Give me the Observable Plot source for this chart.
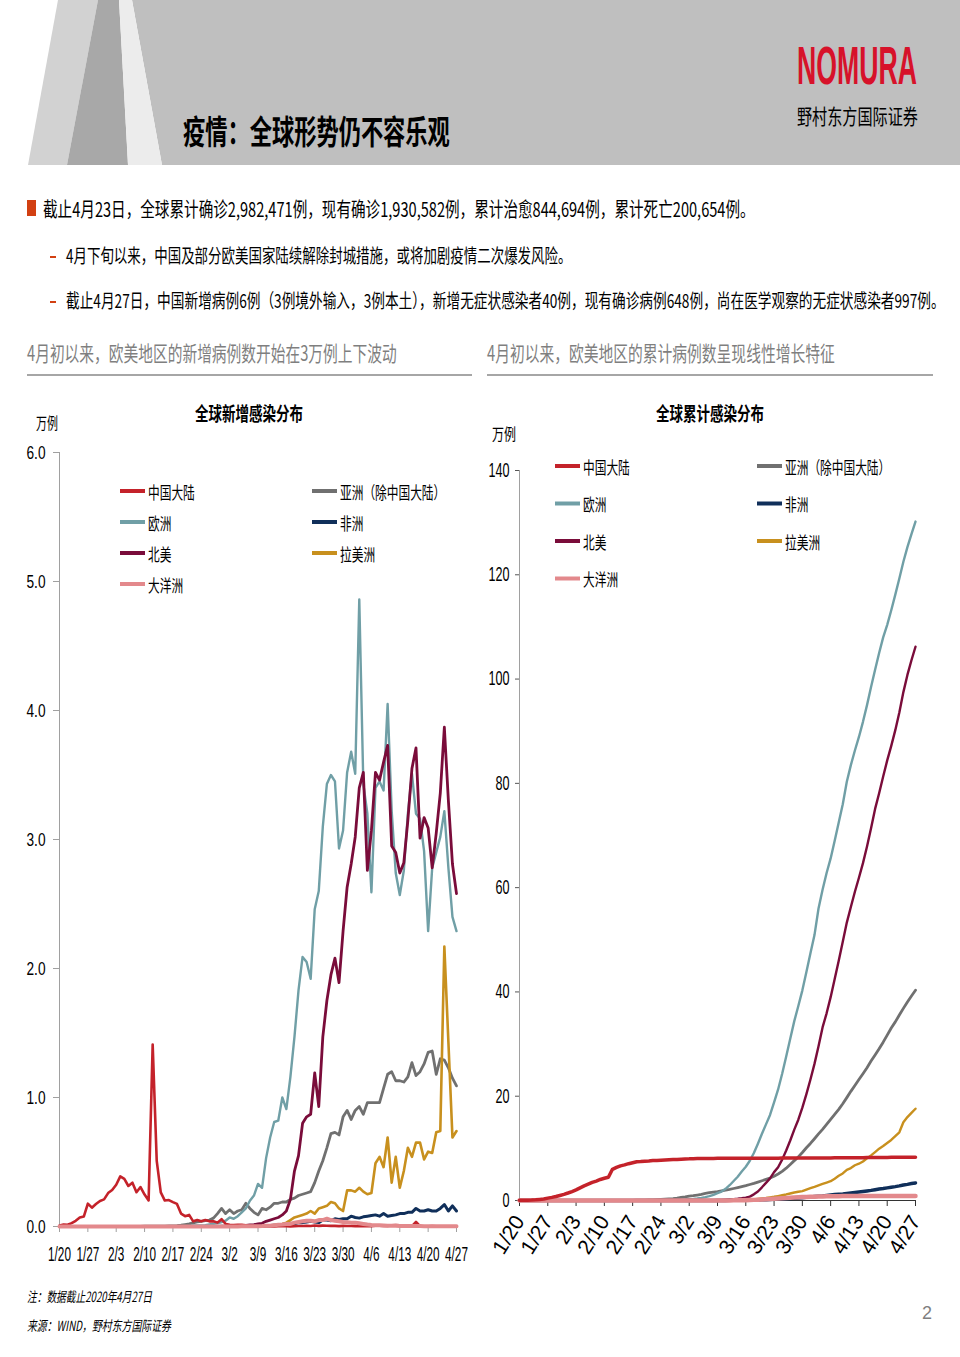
<!DOCTYPE html>
<html lang="zh-CN">
<head>
<meta charset="utf-8">
<script src="https://cdn.jsdelivr.net/npm/d3@7"></script>
<script src="https://cdn.jsdelivr.net/npm/@observablehq/plot@0.6"></script>
<style>
html,body{margin:0;padding:0;background:#fff;}
#page{position:relative;width:960px;height:1357px;overflow:hidden;background:#fff;}
#deco{position:absolute;left:0;top:0;}
#left,#right{position:absolute;top:380px;}
#left{left:0;}
#right{left:475px;}
</style>
</head>
<body>
<div id="page">
<svg id="deco" width="960" height="1357"></svg>
<div id="left"></div>
<div id="right"></div>
</div>
<script>
// ---------------- DATA ----------------
const seriesNames  = ["中国大陆","欧洲","北美","大洋洲","亚洲（除中国大陆）","非洲","拉美洲"];
const seriesColors = ["#c4222a","#709fa6","#7a0c3a","#e3898c","#707070","#102f5a","#c8901e"];
const xTickLabels  = ["1/20","1/27","2/3","2/10","2/17","2/24","3/2","3/9","3/16","3/23","3/30","4/6","4/13","4/20","4/27"];
const leftYTicks   = [0,1,2,3,4,5,6];
const rightYTicks  = [0,20,40,60,80,100,120,140];

// daily new cases (万例), 2020-01-20 .. 2020-04-27
const chinaDaily = [
0.008,0.015,0.013,0.026,0.044,0.069,0.077,0.177,0.146,0.174,
0.198,0.210,0.259,0.283,0.324,0.389,0.369,0.314,0.340,0.266,
0.306,0.248,0.202,1.411,0.509,0.264,0.201,0.205,0.189,0.175,
0.100,0.080,0.090,0.040,0.050,0.040,0.050,0.040,0.040,0.030,
0.057,0.020,0.013,0.012,0.014,0.014,0.010,0.004,0.004,0.002,
0.002,0.002,0.001,0.001,0.002,0.002,0.002,0.001,0.003,0.004,
0.004,0.005,0.004,0.008,0.005,0.007,0.006,0.005,0.005,0.003,
0.005,0.004,0.004,0.003,0.002,0.003,0.004,0.003,0.006,0.006,
0.004,0.005,0.010,0.011,0.009,0.005,0.005,0.003,0.035,0.002,
0.001,0.001,0.003,0.001,0.001,0.001,0.001,0.000,0.001];
const europeDaily = [
0,0,0,0,0.0003,0,0,0.0005,0.0004,0.0005,
0.0003,0.0005,0.0006,0.0002,0.0003,0.0003,0.0002,0.0001,0.0002,0.0001,
0.0002,0.0002,0.0001,0.0001,0.0001,0.0001,0.0001,0.0001,0.0001,0.0001,
0.0001,0.0001,0.0016,0.0079,0.0076,0.0075,0.011,0.016,0.021,0.025,
0.035,0.045,0.07,0.06,0.08,0.11,0.14,0.20,0.24,0.33,
0.30,0.53,0.69,0.81,0.82,1.00,0.91,1.16,1.47,1.83,
2.09,2.05,1.92,2.46,2.60,3.10,3.43,3.50,3.45,2.93,
3.07,3.52,3.68,3.51,4.86,3.43,3.20,2.59,3.40,3.45,
3.38,4.05,3.22,2.74,2.57,2.76,3.20,3.51,3.20,3.16,
2.91,2.29,2.78,2.90,3.02,3.22,2.78,2.40,2.29];
const northAmericaDaily = [
0,0,0,0,0,0,0,0,0,0,
0,0,0,0,0,0,0,0,0,0,
0,0,0,0,0,0,0,0,0,0,
0,0,0,0,0,0,0.0003,0.0005,0.0004,0.0006,
0.0008,0.0016,0.002,0.003,0.005,0.007,0.009,0.012,0.015,0.020,
0.025,0.040,0.050,0.060,0.070,0.090,0.120,0.210,0.430,0.550,
0.800,0.850,0.870,1.190,0.930,1.470,1.750,1.950,2.080,1.890,
2.290,2.630,2.810,3.020,3.400,3.520,2.760,3.070,3.520,3.460,
3.600,3.730,2.950,2.900,2.740,2.820,3.150,3.550,3.710,3.010,
3.170,3.090,2.780,3.050,3.360,3.870,3.300,2.810,2.580];
const oceaniaDaily = [
0,0,0,0,0,0.0003,0.0001,0,0,0,
0,0.0002,0.0003,0,0,0,0,0,0,0,
0,0,0,0,0,0,0,0,0,0,
0,0,0,0,0,0,0,0.0002,0.0005,0.0003,
0.0003,0.0005,0.0004,0.0006,0.0008,0.001,0.001,0.0015,0.002,0.002,
0.003,0.005,0.006,0.010,0.013,0.015,0.020,0.020,0.030,0.035,
0.040,0.045,0.045,0.040,0.050,0.050,0.060,0.050,0.045,0.040,
0.035,0.033,0.030,0.030,0.025,0.020,0.015,0.012,0.010,0.010,
0.008,0.006,0.005,0.005,0.004,0.004,0.004,0.003,0.003,0.003,
0.002,0.002,0.002,0.002,0.002,0.002,0.002,0.001,0.001];
const asiaDaily = [
0.000,0.000,0.000,0.001,0.000,0.001,0.001,0.001,0.001,0.001,
0.001,0.001,0.001,0.001,0.001,0.001,0.001,0.001,0.001,0.001,
0.001,0.002,0.002,0.003,0.002,0.003,0.003,0.004,0.004,0.006,
0.010,0.015,0.020,0.028,0.035,0.040,0.045,0.050,0.065,0.100,
0.140,0.100,0.130,0.100,0.120,0.130,0.180,0.140,0.110,0.090,
0.140,0.130,0.150,0.180,0.180,0.190,0.190,0.210,0.220,0.240,
0.250,0.260,0.270,0.340,0.430,0.510,0.610,0.720,0.730,0.710,
0.850,0.900,0.830,0.900,0.930,0.870,0.960,0.960,0.960,0.960,
1.070,1.180,1.200,1.130,1.130,1.120,1.160,1.270,1.170,1.200,
1.260,1.350,1.360,1.180,1.300,1.290,1.230,1.150,1.090];
const africaDaily = [
0,0,0,0,0,0,0,0,0,0,
0,0,0,0,0,0,0,0,0,0,
0,0,0,0,0,0,0,0,0,0,
0,0,0,0,0,0,0,0,0,0,
0.001,0.001,0.001,0.001,0.001,0.002,0.002,0.002,0.003,0.003,
0.004,0.006,0.008,0.010,0.012,0.015,0.020,0.025,0.020,0.030,
0.030,0.035,0.040,0.035,0.030,0.050,0.050,0.045,0.060,0.055,
0.060,0.060,0.080,0.070,0.065,0.075,0.080,0.085,0.090,0.080,
0.100,0.080,0.085,0.090,0.100,0.100,0.110,0.110,0.140,0.120,
0.120,0.130,0.120,0.120,0.140,0.170,0.120,0.160,0.120];
const latinAmericaDaily = [
0,0,0,0,0,0,0,0,0,0,
0,0,0,0,0,0,0,0,0,0,
0,0,0,0,0,0,0,0,0,0,
0,0,0,0,0,0,0,0,0,0,
0,0,0,0,0,0.0005,0.001,0.001,0.002,0.003,
0.004,0.006,0.008,0.012,0.015,0.020,0.030,0.050,0.070,0.080,
0.090,0.100,0.120,0.100,0.140,0.150,0.160,0.190,0.180,0.140,
0.120,0.280,0.280,0.270,0.300,0.270,0.250,0.260,0.490,0.540,
0.460,0.690,0.340,0.540,0.300,0.430,0.610,0.540,0.650,0.650,
0.520,0.580,0.570,0.730,0.740,2.170,1.430,0.690,0.740];

// cumulative cases (万例), 2020-01-20 .. 2020-04-27
const chinaCum = [
0.03,0.04,0.06,0.08,0.13,0.20,0.28,0.45,0.60,0.77,
0.97,1.18,1.44,1.72,2.04,2.43,2.80,3.12,3.46,3.72,
4.03,4.26,4.47,5.98,6.35,6.65,6.84,7.06,7.24,7.42,
7.46,7.54,7.58,7.65,7.69,7.74,7.78,7.82,7.86,7.88,
7.93,7.98,7.99,8.03,8.04,8.06,8.07,8.07,8.07,8.08,
8.08,8.08,8.08,8.08,8.08,8.09,8.09,8.09,8.09,8.10,
8.10,8.11,8.11,8.12,8.12,8.13,8.13,8.14,8.14,8.15,
8.15,8.15,8.16,8.16,8.16,8.17,8.17,8.17,8.18,8.18,
8.19,8.19,8.20,8.21,8.22,8.22,8.23,8.23,8.27,8.27,
8.27,8.27,8.28,8.28,8.28,8.28,8.28,8.28,8.28];
const europeCum = [
0,0,0,0,0.0003,0.0003,0.0003,0.0008,0.0012,0.0017,
0.002,0.0025,0.003,0.0033,0.0036,0.0039,0.0041,0.0042,0.0044,0.0045,
0.0047,0.0049,0.005,0.005,0.005,0.005,0.005,0.005,0.005,0.005,
0.005,0.005,0.007,0.015,0.02,0.03,0.04,0.06,0.08,0.10,
0.14,0.18,0.25,0.31,0.39,0.50,0.64,0.84,1.08,1.41,
1.71,2.24,2.93,3.74,4.56,5.56,6.47,7.63,9.10,10.9,
12.8,14.6,16.4,18.8,21.3,24.3,27.6,31.0,34.4,37.3,
40.3,43.8,47.4,50.9,56.0,59.6,62.8,65.6,69.0,72.5,
76.0,80.3,83.5,86.3,88.9,91.8,95.0,98.5,101.8,105.0,
108.0,110.4,113.2,116.2,119.3,122.5,125.3,127.8,130.2];
const northAmericaCum = [
0,0,0.0001,0.0001,0.0002,0.0003,0.0005,0.0005,0.0005,0.0006,
0.0007,0.0007,0.0008,0.0011,0.0012,0.0013,0.0013,0.0013,0.0013,0.0013,
0.0013,0.0014,0.0015,0.0016,0.0016,0.0016,0.0016,0.0016,0.0016,0.0016,
0.0016,0.0016,0.0017,0.0018,0.0020,0.0022,0.0025,0.003,0.0035,0.004,
0.008,0.01,0.012,0.015,0.02,0.027,0.036,0.048,0.063,0.083,
0.11,0.15,0.20,0.26,0.33,0.42,0.54,0.75,1.18,1.73,
2.53,3.38,4.25,5.44,6.37,7.84,9.59,11.5,13.6,15.5,
17.8,20.4,23.2,26.2,29.6,33.2,35.9,39.0,42.5,46.0,
49.6,53.3,56.3,59.2,61.9,64.7,67.9,71.4,75.1,78.1,
81.3,84.4,87.2,90.2,93.6,97.5,100.8,103.6,106.2];
const oceaniaCum = [
0,0,0,0,0,0.0003,0.0004,0.0004,0.0004,0.0004,
0.0004,0.0006,0.0009,0.0009,0.0010,0.0012,0.0012,0.0015,0.0015,0.0015,
0.0015,0.0015,0.0015,0.0015,0.0015,0.0015,0.0015,0.0015,0.0015,0.0015,
0.0015,0.0015,0.0016,0.0017,0.0018,0.0020,0.0022,0.0024,0.0029,0.0032,
0.0035,0.004,0.004,0.005,0.006,0.007,0.007,0.008,0.010,0.011,
0.013,0.017,0.022,0.030,0.040,0.050,0.070,0.090,0.120,0.150,
0.19,0.23,0.28,0.32,0.37,0.42,0.48,0.53,0.57,0.61,
0.65,0.68,0.71,0.74,0.76,0.78,0.80,0.81,0.82,0.83,
0.84,0.84,0.85,0.85,0.86,0.86,0.86,0.86,0.87,0.87,
0.87,0.87,0.87,0.87,0.88,0.88,0.88,0.88,0.88];
const asiaCum = [
0.0005,0.001,0.001,0.002,0.002,0.003,0.004,0.005,0.006,0.007,
0.008,0.009,0.010,0.011,0.012,0.013,0.014,0.015,0.016,0.017,
0.018,0.020,0.022,0.025,0.027,0.030,0.033,0.037,0.041,0.047,
0.057,0.072,0.092,0.12,0.155,0.195,0.24,0.29,0.355,0.455,
0.60,0.70,0.83,0.93,1.05,1.18,1.36,1.50,1.61,1.70,
1.84,1.97,2.12,2.30,2.48,2.67,2.86,3.07,3.29,3.53,
3.78,4.04,4.31,4.65,5.08,5.59,6.20,6.92,7.65,8.36,
9.21,10.11,10.94,11.84,12.77,13.64,14.60,15.56,16.52,17.48,
18.55,19.73,20.93,22.06,23.19,24.31,25.47,26.74,27.91,29.11,
30.37,31.72,33.08,34.26,35.56,36.85,38.08,39.23,40.32];
const africaCum = [
0,0,0,0,0,0,0,0,0,0,
0,0,0,0,0,0,0,0,0,0,
0,0,0,0,0,0,0,0,0,0,
0,0,0,0,0,0,0.0001,0.0002,0.0003,0.0005,
0.002,0.002,0.003,0.003,0.004,0.005,0.006,0.007,0.009,0.012,
0.015,0.02,0.025,0.03,0.04,0.05,0.065,0.08,0.09,0.11,
0.13,0.165,0.20,0.24,0.27,0.30,0.35,0.40,0.45,0.50,
0.55,0.61,0.69,0.76,0.82,0.88,0.96,1.05,1.14,1.22,
1.27,1.35,1.43,1.52,1.62,1.72,1.83,1.94,2.08,2.20,
2.29,2.42,2.54,2.66,2.80,2.97,3.09,3.25,3.37];
const latinAmericaCum = [
0,0,0,0,0,0,0,0,0,0,
0,0,0,0,0,0,0,0,0,0,
0,0,0,0,0,0,0,0,0,0,
0,0,0,0,0,0,0,0,0,0,
0,0,0,0,0.0005,0.001,0.002,0.003,0.005,0.008,
0.012,0.018,0.026,0.038,0.053,0.073,0.10,0.15,0.22,0.30,
0.39,0.49,0.61,0.71,0.85,1.00,1.16,1.35,1.53,1.67,
1.79,2.07,2.35,2.62,2.92,3.19,3.44,3.70,4.19,4.73,
5.19,5.88,6.22,6.76,7.06,7.49,8.10,8.64,9.29,9.94,
10.46,11.04,11.61,12.34,13.08,15.0,16.0,16.8,17.6];

const dailySeries = [chinaDaily, europeDaily, northAmericaDaily, oceaniaDaily, asiaDaily, africaDaily, latinAmericaDaily];
const cumSeries   = [chinaCum, europeCum, northAmericaCum, oceaniaCum, asiaCum, africaCum, latinAmericaCum];

// ---------------- HELPERS ----------------
const start = new Date(Date.UTC(2020, 0, 20));
const days = d3.utcDay.range(start, new Date(Date.UTC(2020, 3, 28)));
const xTickDates = xTickLabels.map(s => { const [m, d] = s.split("/").map(Number); return new Date(Date.UTC(2020, m - 1, d)); });
const fmt = d3.utcFormat("%-m/%-d");
const rows = arr => arr.slice(0, days.length).map((v, i) => ({date: days[i], value: v}));
const CJK = '"Noto Sans CJK SC","Noto Sans",sans-serif';
const LAT = '"Liberation Sans",Arial,sans-serif';
const AXIS = "#a0a0a0";

const deco = d3.select("#deco");
// text squeezed horizontally (via transform) to a target width, like the narrow fonts of the original
function txt(x, y, s, o = {}) {
  const t = deco.append("text")
    .attr("font-size", o.size || 18)
    .attr("font-family", o.family || CJK)
    .attr("font-weight", o.weight || 400)
    .attr("fill", o.fill || "#000")
    .attr("text-anchor", o.anchor || "start")
    .attr("dominant-baseline", "central")
    .text(s);
  if (o.italic) t.attr("font-style", "italic");
  let sx = 1;
  if (o.len) { const w = t.node().getComputedTextLength(); if (w > 0) sx = o.len / w; }
  t.attr("transform", `translate(${x},${y}) scale(${sx.toFixed(4)},1)`);
  return t;
}

// ---------------- PAGE DECORATION ----------------
deco.append("polygon").attr("points", "132,0 960,0 960,165 162,165").attr("fill", "#bfbfbf");
deco.append("polygon").attr("points", "58,0 98,0 67,165 28,165").attr("fill", "#d2d2d2");
deco.append("polygon").attr("points", "98,0 119,0 128,165 67,165").attr("fill", "#a8a8a8");
deco.append("polygon").attr("points", "119,0 132,0 162,165 128,165").attr("fill", "#ececec");

txt(183, 129, "疫情：全球形势仍不容乐观", {size: 33, len: 267, weight: 700});
txt(797, 66, "NOMURA", {size: 53, len: 120, weight: 700, fill: "#d7122a", family: LAT});
txt(797, 115, "野村东方国际证券", {size: 21, len: 121});

deco.append("rect").attr("x", 27).attr("y", 200).attr("width", 9).attr("height", 16).attr("fill", "#d24012");
txt(43, 208, "截止4月23日，全球累计确诊2,982,471例，现有确诊1,930,582例，累计治愈844,694例，累计死亡200,654例。", {size: 20, len: 712});
deco.append("rect").attr("x", 50).attr("y", 256).attr("width", 6).attr("height", 2).attr("fill", "#d24012");
txt(66, 255, "4月下旬以来，中国及部分欧美国家陆续解除封城措施，或将加剧疫情二次爆发风险。", {size: 19, len: 506});
deco.append("rect").attr("x", 50).attr("y", 301).attr("width", 6).attr("height", 2).attr("fill", "#d24012");
txt(66, 300, "截止4月27日，中国新增病例6例（3例境外输入，3例本土），新增无症状感染者40例，现有确诊病例648例，尚在医学观察的无症状感染者997例。", {size: 19, len: 879});

txt(27, 352, "4月初以来，欧美地区的新增病例数开始在3万例上下波动", {size: 21, len: 370, fill: "#7f7f7f"});
txt(487, 352, "4月初以来，欧美地区的累计病例数呈现线性增长特征", {size: 21, len: 348, fill: "#7f7f7f"});
deco.append("rect").attr("x", 27).attr("y", 374).attr("width", 445).attr("height", 2).attr("fill", "#a6a6a6");
deco.append("rect").attr("x", 487).attr("y", 374).attr("width", 446).attr("height", 2).attr("fill", "#a6a6a6");

txt(249, 413, "全球新增感染分布", {size: 19, len: 108, weight: 700, anchor: "middle"});
txt(710, 413, "全球累计感染分布", {size: 19, len: 108, weight: 700, anchor: "middle"});
txt(36, 422, "万例", {size: 16, len: 22});
txt(492, 433, "万例", {size: 16, len: 24});

txt(27, 1296, "注：数据截止2020年4月27日", {size: 14, len: 125, italic: true});
txt(27, 1325, "来源：WIND，野村东方国际证券", {size: 14, len: 144, italic: true});
txt(932, 1313, "2", {size: 18, fill: "#7f7f7f", anchor: "end", family: LAT});

// legends
function legend(colX, y0, dy) {
  seriesNames.forEach((name, i) => {
    const col = i < 4 ? 0 : 1, row = i < 4 ? i : i - 4;
    const x = colX[col], y = y0 + row * dy;
    deco.append("line").attr("x1", x).attr("x2", x + 25).attr("y1", y).attr("y2", y)
      .attr("stroke", seriesColors[i]).attr("stroke-width", 4);
    txt(x + 28, y, name, {size: 17, len: name.length * 11.7});
  });
}
legend([120, 312], 491, 31);
legend([555, 757], 466, 37.5);

// ---------------- CHARTS ----------------
// narrow the axis tick labels horizontally, keeping their anchor point
function squeeze(svg, sel, factor) {
  svg.querySelectorAll(sel).forEach(t => {
    let tr = t.getAttribute("transform") || "";
    const xa = t.getAttribute("x");
    if (!tr && xa != null && !isNaN(+xa)) { tr = `translate(${+xa},0)`; t.setAttribute("x", 0); }
    t.setAttribute("transform", `${tr} scale(${factor},1)`.trim());
  });
}

const leftOrder  = [4, 1, 5, 6, 2, 0, 3];
const leftWidth  = [2.6, 2.4, 2.8, 4.0, 2.8, 3.0, 2.6];
const leftPlot = Plot.plot({
  width: 475, height: 900,
  marginLeft: 59, marginRight: 19, marginTop: 72, marginBottom: 54,
  style: {fontFamily: LAT, color: "#000", background: "transparent", overflow: "visible"},
  x: {type: "utc", domain: [days[0], days[days.length - 1]]},
  y: {domain: [0, 6]},
  marks: [
    Plot.ruleY([0], {stroke: AXIS}),
    Plot.ruleX([days[0]], {stroke: AXIS}),
    Plot.axisY({ticks: leftYTicks, tickFormat: d3.format(".1f"), tickSize: 6, tickPadding: 8, fontSize: 19, stroke: AXIS, label: null}),
    Plot.axisX({ticks: xTickDates, tickFormat: fmt, tickSize: 6, tickPadding: 14, fontSize: 21, stroke: AXIS, label: null}),
    ...leftOrder.map(i => Plot.lineY(rows(dailySeries[i]), {x: "date", y: "value", stroke: seriesColors[i], strokeWidth: leftWidth[i], strokeLinejoin: "round"}))
  ]
});
document.getElementById("left").appendChild(leftPlot);
squeeze(leftPlot, 'g[aria-label="y-axis tick label"] text', 0.72);
squeeze(leftPlot, 'g[aria-label="x-axis tick label"] text', 0.56);

const rightOrder = [4, 1, 2, 6, 5, 3, 0];
const rightWidth = [3.5, 2.4, 2.4, 4.5, 2.8, 3.5, 2.4];
const rightPlot = Plot.plot({
  width: 485, height: 900,
  marginLeft: 44, marginRight: 45, marginTop: 90, marginBottom: 80,
  style: {fontFamily: LAT, color: "#000", background: "transparent", overflow: "visible"},
  x: {type: "utc", domain: [days[0], days[days.length - 1]]},
  y: {domain: [0, 140]},
  marks: [
    Plot.ruleY([0], {stroke: "#333"}),
    Plot.ruleX([days[0]], {stroke: AXIS}),
    Plot.axisY({ticks: rightYTicks, tickFormat: d => String(d), tickSize: 4, tickPadding: 6, fontSize: 20, stroke: "#555", label: null}),
    Plot.axisX({ticks: xTickDates, tickFormat: fmt, tickSize: 6, tickPadding: 11, tickRotate: -58, fontSize: 21, stroke: "#333", label: null}),
    ...rightOrder.map(i => Plot.lineY(rows(cumSeries[i]), {x: "date", y: "value", stroke: seriesColors[i], strokeWidth: rightWidth[i], strokeLinejoin: "round"}))
  ]
});
document.getElementById("right").appendChild(rightPlot);
squeeze(rightPlot, 'g[aria-label="y-axis tick label"] text', 0.63);
</script>
</body>
</html>
